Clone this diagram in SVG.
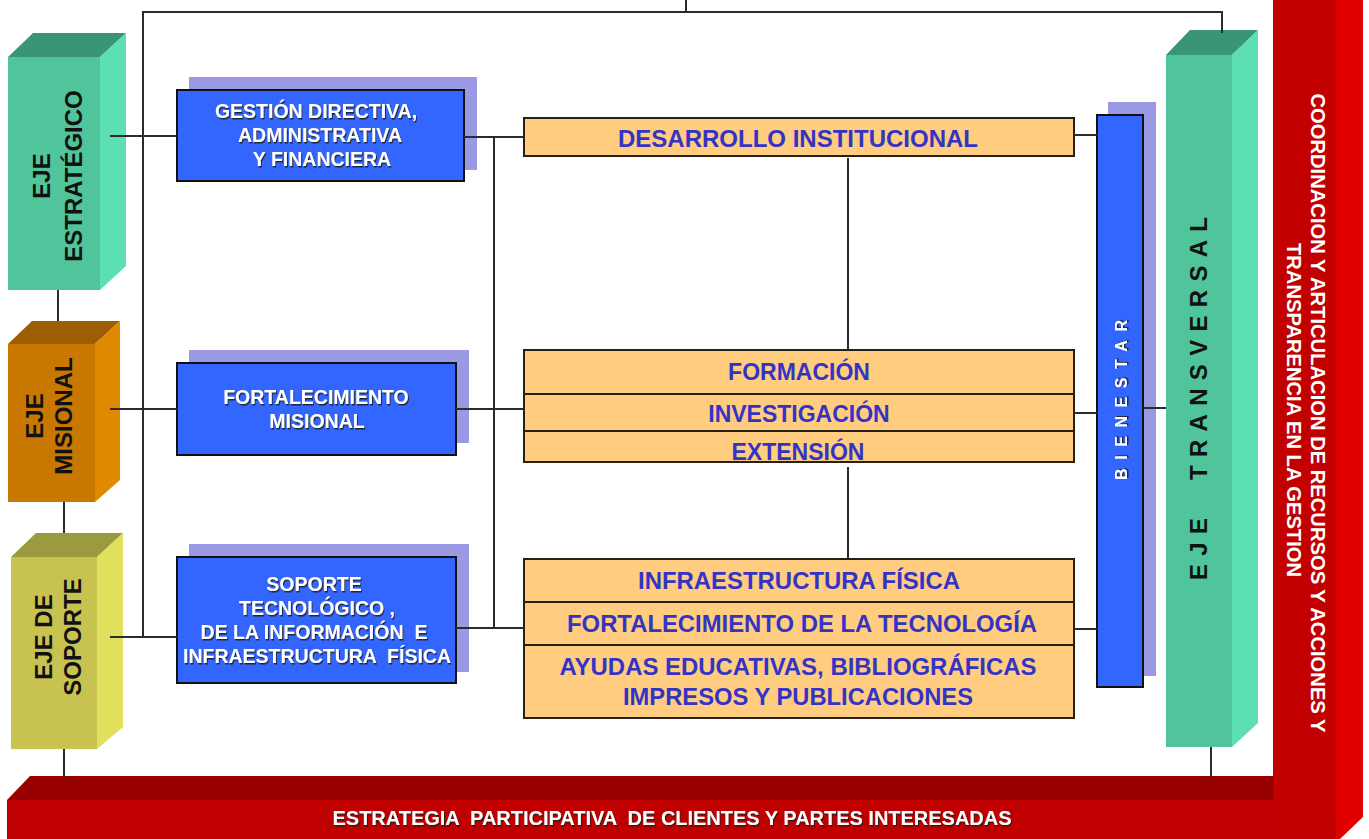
<svg xmlns="http://www.w3.org/2000/svg" width="1369" height="839" viewBox="0 0 1369 839">
<defs>
<filter id="emb" x="-5%" y="-20%" width="110%" height="140%">
<feDropShadow dx="1" dy="1.5" stdDeviation="0.6" flood-color="#1a1a1a" flood-opacity="0.9"/>
</filter>
<style>
.ln{stroke:#2b2b2b;stroke-width:2;fill:none}
.blue{fill:#3366ff;stroke:#111;stroke-width:2}
.shd{fill:#9999e4}
.org{fill:#ffcc80;stroke:#262015;stroke-width:2}
.wt{font-family:"Liberation Sans",Arial,sans-serif;font-weight:bold;fill:#fff;text-anchor:middle;filter:url(#emb);white-space:pre}
.bt{font-family:"Liberation Sans",Arial,sans-serif;font-weight:bold;fill:#3434c4;text-anchor:middle;font-size:23px}
.pt{font-family:"Liberation Sans",Arial,sans-serif;font-weight:bold;fill:#111;text-anchor:middle;font-size:24px}
.rt{font-family:"Liberation Sans",Arial,sans-serif;font-weight:bold;fill:#fff;font-size:20px;white-space:pre}
</style>
</defs>
<rect width="1369" height="839" fill="#fff"/>

<!-- red frame -->
<g id="frame-bottom">
<polygon points="30,776 1273,776 1273,800 7,800" fill="#990000"/>
<rect x="7" y="800" width="1330" height="39" fill="#c00000"/>
<text class="rt" x="672" y="825" text-anchor="middle" font-size="18" textLength="679" lengthAdjust="spacingAndGlyphs" filter="url(#emb)" xml:space="preserve">ESTRATEGIA  PARTICIPATIVA  DE CLIENTES Y PARTES INTERESADAS</text>
</g>
<g id="frame-right">
<rect x="1273" y="0" width="63" height="828" fill="#c20000"/>
<polygon points="1336,0 1363,0 1363,817 1340,839 1336,839" fill="#e00000"/>
<text class="rt" transform="translate(1311,413) rotate(90)" text-anchor="middle" textLength="639" lengthAdjust="spacingAndGlyphs">COORDINACION Y ARTICULACION DE RECURSOS Y ACCIONES Y</text>
<text class="rt" transform="translate(1287,410) rotate(90)" text-anchor="middle" textLength="334" lengthAdjust="spacingAndGlyphs">TRANSPARENCIA EN LA GESTION</text>
</g>

<!-- left pillars -->
<g id="eje-estrategico">
<polygon points="8,57 33,33 126,33 100,57" fill="#3a9478"/>
<polygon points="100,57 126,33 126,266 100,290" fill="#5ce0b2"/>
<rect x="8" y="57" width="92" height="233" fill="#50c49a"/>
<text class="pt" transform="translate(50,176) rotate(-90)">EJE</text>
<text class="pt" transform="translate(82,176) rotate(-90)">ESTRATÉGICO</text>
</g>
<g id="eje-misional">
<polygon points="8,344 32,321 120,321 95,344" fill="#9c5e00"/>
<polygon points="95,344 120,321 120,480 95,502" fill="#e08a00"/>
<rect x="8" y="344" width="87" height="158" fill="#c87800"/>
<text class="pt" transform="translate(43,416) rotate(-90)">EJE</text>
<text class="pt" transform="translate(72,416) rotate(-90)">MISIONAL</text>
</g>
<g id="eje-soporte">
<polygon points="11,557 36,533 123,533 97,557" fill="#9c9a40"/>
<polygon points="97,557 123,533 123,727 97,749" fill="#e0e05c"/>
<rect x="11" y="557" width="86" height="192" fill="#c8c250"/>
<text class="pt" transform="translate(52,637) rotate(-90)">EJE DE</text>
<text class="pt" transform="translate(81,637) rotate(-90)">SOPORTE</text>
</g>

<!-- blue boxes -->
<g id="gestion">
<rect class="shd" x="189" y="77" width="288" height="93"/>
<rect class="blue" x="177" y="90" width="287" height="91"/>
<text class="wt" font-size="19.5"><tspan x="316" y="118">GESTIÓN DIRECTIVA,</tspan><tspan x="320" y="142">ADMINISTRATIVA</tspan><tspan x="322" y="166">Y FINANCIERA</tspan></text>
</g>
<g id="fortalecimiento-misional">
<rect class="shd" x="189" y="350" width="280" height="93"/>
<rect class="blue" x="177" y="363" width="279" height="92"/>
<text class="wt" font-size="19.5"><tspan x="316" y="404">FORTALECIMIENTO</tspan><tspan x="317" y="428">MISIONAL</tspan></text>
</g>
<g id="soporte-tecnologico">
<rect class="shd" x="189" y="544" width="280" height="128"/>
<rect class="blue" x="177" y="557" width="279" height="126"/>
<text class="wt" font-size="19.5" xml:space="preserve"><tspan x="314" y="591">SOPORTE</tspan><tspan x="317" y="615">TECNOLÓGICO ,</tspan><tspan x="314" y="639">DE LA INFORMACIÓN  E</tspan><tspan x="317" y="663">INFRAESTRUCTURA  FÍSICA</tspan></text>
</g>

<!-- orange boxes -->
<g id="desarrollo">
<rect class="org" x="524" y="118" width="550" height="38"/>
<text class="bt" x="798" y="147" textLength="360" lengthAdjust="spacingAndGlyphs">DESARROLLO INSTITUCIONAL</text>
</g>
<g id="formacion">
<rect class="org" x="524" y="350" width="550" height="44"/>
<text class="bt" x="799" y="380">FORMACIÓN</text>
</g>
<g id="investigacion">
<rect class="org" x="524" y="394" width="550" height="37"/>
<text class="bt" x="799" y="422">INVESTIGACIÓN</text>
</g>
<g id="extension">
<rect class="org" x="524" y="431" width="550" height="31"/>
<text class="bt" x="798" y="460">EXTENSIÓN</text>
</g>
<g id="infraestructura">
<rect class="org" x="524" y="559" width="550" height="43"/>
<text class="bt" x="799" y="589" textLength="322" lengthAdjust="spacingAndGlyphs">INFRAESTRUCTURA FÍSICA</text>
</g>
<g id="tecnologia">
<rect class="org" x="524" y="602" width="550" height="43"/>
<text class="bt" x="802" y="632" textLength="470" lengthAdjust="spacingAndGlyphs">FORTALECIMIENTO DE LA TECNOLOGÍA</text>
</g>
<g id="ayudas">
<rect class="org" x="524" y="645" width="550" height="73"/>
<text class="bt" x="798" y="675" textLength="477" lengthAdjust="spacingAndGlyphs">AYUDAS EDUCATIVAS, BIBLIOGRÁFICAS</text>
<text class="bt" x="798" y="705" textLength="350" lengthAdjust="spacingAndGlyphs">IMPRESOS Y PUBLICACIONES</text>
</g>

<!-- bienestar -->
<g id="bienestar">
<rect class="shd" x="1108" y="102" width="48" height="574"/>
<rect class="blue" x="1097" y="115" width="46" height="572"/>
<text class="wt" font-size="16" transform="translate(1127,400) rotate(-90)" textLength="160" lengthAdjust="spacing">BIENESTAR</text>
</g>

<!-- eje transversal -->
<g id="eje-transversal">
<polygon points="1166,55 1190,30 1258,30 1232,55" fill="#3a9478"/>
<polygon points="1232,55 1258,30 1258,723 1232,747" fill="#5ce0b2"/>
<rect x="1166" y="55" width="66" height="692" fill="#50c49a"/>
<text class="pt" font-size="22" transform="translate(1207,580) rotate(-90)" textLength="62" lengthAdjust="spacing" style="text-anchor:start">EJE</text>
<text class="pt" font-size="22" transform="translate(1207,480) rotate(-90)" textLength="263" lengthAdjust="spacing" style="text-anchor:start">TRANSVERSAL</text>
</g>

<!-- connectors -->
<g id="connectors" class="ln">
<polyline points="143,637 143,12 1222,12 1222,33"/>
<line x1="686" y1="0" x2="686" y2="12"/>
<line x1="58" y1="290" x2="58" y2="321"/>
<line x1="64" y1="502" x2="64" y2="533"/>
<line x1="64" y1="749" x2="64" y2="777"/>
<line x1="110" y1="136" x2="177" y2="136"/>
<line x1="110" y1="409" x2="177" y2="409"/>
<line x1="110" y1="637" x2="177" y2="637"/>
<line x1="464" y1="137" x2="524" y2="137"/>
<line x1="456" y1="409" x2="524" y2="409"/>
<line x1="456" y1="628" x2="524" y2="628"/>
<line x1="494" y1="137" x2="494" y2="628"/>
<line x1="848" y1="158" x2="848" y2="350"/>
<line x1="848" y1="467" x2="848" y2="559"/>
<line x1="1074" y1="135" x2="1097" y2="135"/>
<line x1="1074" y1="413" x2="1097" y2="413"/>
<line x1="1074" y1="629" x2="1097" y2="629"/>
<line x1="1143" y1="408" x2="1166" y2="408"/>
<line x1="1211" y1="747" x2="1211" y2="777"/>
</g>
</svg>
